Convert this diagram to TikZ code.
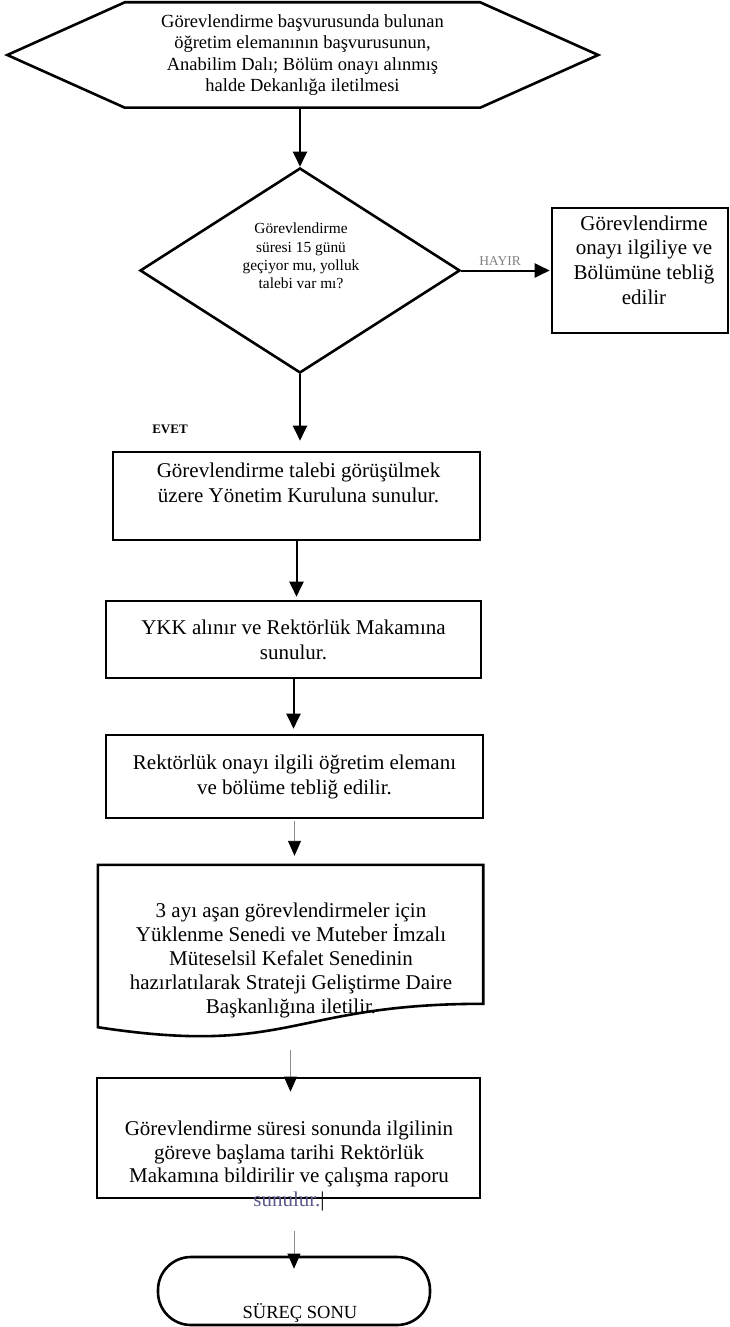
\documentclass[tikz,border=0pt]{standalone}
\usepackage{fontspec}
\setmainfont{Liberation Serif}
\usetikzlibrary{arrows.meta,shapes.geometric,calc}
\definecolor{subcol}{rgb}{0.36,0.36,0.55}
\newcommand{\fs}[2]{\fontsize{#1pt}{#2pt}\selectfont}
\begin{document}
\begin{tikzpicture}[x=1pt,y=-1pt,
  shapeline/.style={draw=black, line width=2.6pt},
  boxnode/.style={shapeline, rectangle, inner sep=0pt},
  ghost/.style={rectangle, inner sep=0pt, draw=none},
  txt/.style={inner sep=0pt, align=center},
  conn/.style={draw=black, line width=2pt, -{Triangle[width=14pt,length=15pt]}},
  thinconn/.style={draw=black!45, line width=0.9pt, -{Triangle[width=13pt,length=15pt,color=black]}}]
\useasboundingbox (0,0) rectangle (730,1327);

% start hexagon
\node[ghost, minimum width=355pt, minimum height=105pt, txt, font=\fs{18.5}{21.3}] (hex) at (302.5,55)
  {Görevlendirme başvurusunda bulunan\\öğretim elemanının başvurusunun,\\Anabilim Dalı; Bölüm onayı alınmış\\halde Dekanlığa iletilmesi};
\draw[shapeline] (hex.north west) -- (hex.north east) -- ($(hex.east)+(118,0)$) -- (hex.south east)
  -- (hex.south west) -- ($(hex.west)+(-117.5,0)$) -- cycle;

% decision
\node[diamond, shapeline, inner sep=0pt, minimum width=320pt, minimum height=205pt] (dia) at (300,270.5) {};
\node[txt, font=\fs{15.4}{18.3}] (diat) at (301,256)
  {Görevlendirme\\süresi 15 günü\\geçiyor mu, yolluk\\talebi var mı?};

% right box
\node[boxnode, minimum width=176pt, minimum height=125pt] (rbox) at (640,270.5) {};
\node[txt, font=\fs{21}{24.7}] (rt) at (644,260)
  {Görevlendirme\\onayı ilgiliye ve\\Bölümüne tebliğ\\edilir};
\node[txt, font=\fs{13.5}{15}, text=black!50] (hayir) at (500,261) {HAYIR};

% EVET label
\node[txt, font=\fs{13}{15}\bfseries] (evet) at (170,429) {EVET};

% box 1
\node[boxnode, minimum width=367pt, minimum height=88pt] (b1) at (296.5,496) {};
\node[txt, font=\fs{21}{25}] (t1) at (298.5,482.5)
  {Görevlendirme talebi görüşülmek\\üzere Yönetim Kuruluna sunulur.};

% box 2
\node[boxnode, txt, minimum width=375pt, minimum height=77pt, font=\fs{21}{25}] (b2) at (293.5,639.5)
  {YKK alınır ve Rektörlük Makamına\\sunulur.};

% box 3
\node[boxnode, txt, minimum width=377pt, minimum height=83pt, font=\fs{21}{25}] (b3) at (294.5,776.5)
  {Rektörlük onayı ilgili öğretim elemanı\\ve bölüme tebliğ edilir.};

% document
\node[ghost, minimum width=385pt, minimum height=162pt] (doc) at (290.5,946) {};
\draw[shapeline] (doc.north west) -- (doc.north east) -- ($(doc.north east)+(0,139)$)
  .. controls ($(doc.north)+(0,139)$) and ($(doc.north)+(0,192)$) .. (doc.south west) -- cycle;
\node[txt, font=\fs{21}{24}] (dt) at (291,960)
  {3 ayı aşan görevlendirmeler için\\Yüklenme Senedi ve Muteber İmzalı\\Müteselsil Kefalet Senedinin\\hazırlatılarak Strateji Geliştirme Daire\\Başkanlığına iletilir.};

% box 5
\node[boxnode, minimum width=383pt, minimum height=120pt] (b5) at (288.5,1138) {};
\node[txt, font=\fs{21}{23.4}] (t5) at (289,1166)
  {Görevlendirme süresi sonunda ilgilinin\\göreve başlama tarihi Rektörlük\\Makamına bildirilir ve çalışma raporu\\{\color{subcol}sunulur.}|};

% terminal
\node[shapeline, rectangle, rounded corners=33pt, inner sep=0pt, minimum width=272pt, minimum height=68pt] (term) at (294,1291) {};
\node[txt, font=\fs{18.5}{21}] (tt) at (300,1313) {SÜREÇ SONU};

% connectors
\draw[conn] (dia.north |- hex.south) -- (dia.north);
\draw[conn, shorten >=1pt] (dia.east) -- (dia.east -| rbox.west);
\draw[conn, shorten >=10pt] (dia.south) -- (dia.south |- b1.north);
\draw[conn, shorten >=3pt] (b1.south) -- (b1.south |- b2.north);
\draw[conn, shorten >=5pt] (b2.south) -- (b2.south |- b3.north);
\draw[thinconn, shorten <=2pt, shorten >=9pt] (b3.south) -- (b3.south |- doc.north);
\draw[thinconn, shorten <=23pt, shorten >=-15pt] (doc.south) -- (doc.south |- b5.north);
\draw[thinconn, shorten <=32pt, shorten >=-13pt] (term.north |- b5.south) -- (term.north);
\end{tikzpicture}
\end{document}
